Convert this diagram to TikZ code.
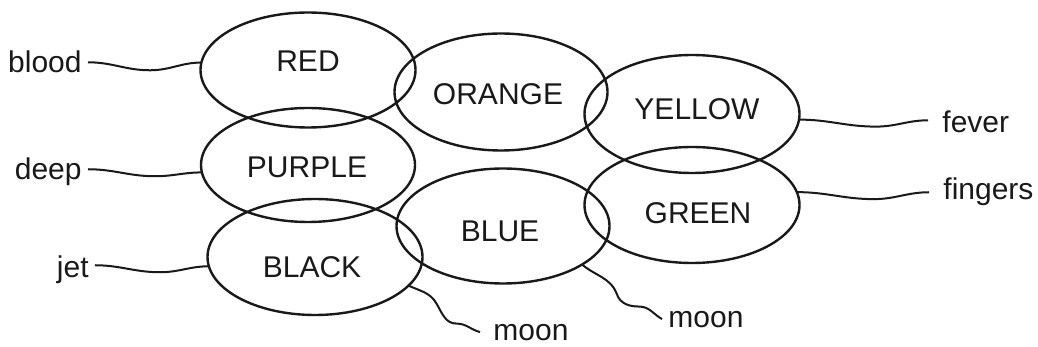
\documentclass[tikz,border=0pt]{standalone}
\usepackage{fontspec}
\setmainfont{Liberation Sans}
\usetikzlibrary{shapes.geometric}
\begin{document}
\begin{tikzpicture}[x=0.5pt,y=-0.5pt,
  ink/.style={draw=black!90},
  bubble/.style={ink, ellipse, line width=1.2pt, inner sep=0pt, outer sep=0pt},
  word/.style={font=\fontsize{15pt}{18pt}\selectfont, text=black!90, inner sep=0pt},
  tag/.style={font=\fontsize{15pt}{18pt}\selectfont, text=black!90, inner ysep=0pt, inner xsep=3pt},
  wire/.style={ink, line width=1pt}]
\useasboundingbox (0,0) rectangle (1038,347);
% ellipses
\node[bubble, minimum width=107.5pt, minimum height=57.5pt] (red)    at (308,70)  {};
\node[bubble, minimum width=106.5pt, minimum height=58.5pt] (orange) at (501,92)  {};
\node[bubble, minimum width=107.5pt, minimum height=59pt]   (yellow) at (692,114) {};
\node[bubble, minimum width=107pt,   minimum height=57pt]   (purple) at (308,165) {};
\node[bubble, minimum width=106.5pt, minimum height=57.5pt] (blue)   at (503,226) {};
\node[bubble, minimum width=107.5pt, minimum height=58pt]   (green)  at (692,205) {};
\node[bubble, minimum width=107.5pt, minimum height=58pt]   (black)  at (315,257) {};
% colour names
\node[word] (tred)    at (308,61)  {RED};
\node[word] (torange) at (498,94)  {ORANGE};
\node[word] (tyellow) at (697,109) {YELLOW};
\node[word] (tpurple) at (307,167) {PURPLE};
\node[word] (tblue)   at (500,231) {BLUE};
\node[word] (tgreen)  at (698,213) {GREEN};
\node[word] (tblack)  at (312,267) {BLACK};
% labels
\node[tag, anchor=base east] (blood) at (88,73)  {blood};
\node[tag, anchor=base east] (deep)  at (88,180) {deep};
\node[tag, anchor=base east] (jet)   at (95,278) {jet};
\node[tag, anchor=base west, inner xsep=7pt] (fever)   at (928,133) {fever};
\node[tag, anchor=base west, inner xsep=7pt] (fingers) at (929,200) {fingers};
\node[tag, anchor=base west] (moonA) at (662,327) {moon};
\node[tag, anchor=base west, inner xsep=6.5pt] (moonB) at (480,340) {moon};
% connectors
\draw[wire] (blood.east) to[out=0,in=180] ++(62,8) to[out=0,in=180] (red.176);
\draw[wire] ([yshift=1.5pt]deep.east) to[out=0,in=180] ++(67,7) to[out=0,in=180] (purple.184);
\draw[wire] ([yshift=2.5pt]jet.east) to[out=0,in=180] ++(65,7) to[out=0,in=180] (black.185);
\draw[wire] (yellow.357) to[out=0,in=180] ++(77,7) to[out=0,in=180] ([yshift=1pt]fever.west);
\draw[wire] (green.7) to[out=0,in=180] ++(77,7) to[out=0,in=180] (fingers.west);
\draw[wire] (blue.-26) to[out=-40,in=110] ++(35,30) to[out=-70,in=180] ++(22,12) to[out=0,in=150] (moonA.west);
\draw[wire] (black.-17) to[out=-25,in=120] ++(28,18) to[out=-60,in=180] ++(20,20) to[out=0,in=165] (moonB.west);
\end{tikzpicture}
\end{document}
